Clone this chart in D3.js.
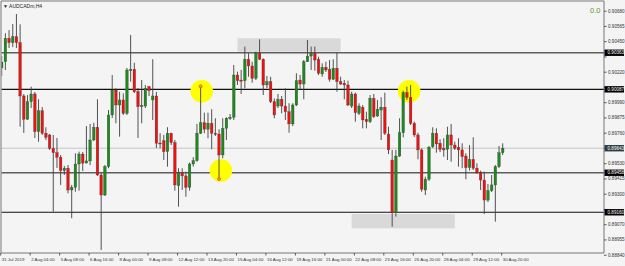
<!DOCTYPE html>
<html lang="en">
<head>
<meta charset="UTF-8">
<title>AUDCADm,H4</title>
<style>
  body, html { margin: 0; padding: 0; background: #f4f4f4; }
  svg { display: block; font-family: "Liberation Sans", Arial, sans-serif; }
</style>
</head>
<body>
<div id="chart"></div>
<script src="https://d3js.org/d3.v7.min.js"></script>
<script>
// H4 bars, 31 Jul 2019 20:00 .. 30 Aug 2019 20:00 (137 bars)
const openP = [
  0.90248,0.90295,0.90472,0.90439,0.90484,0.90439,0.90037,0.89861,0.89994,0.90052,
  0.89768,0.89926,0.89756,0.89743,0.89642,0.89609,0.89575,0.89474,0.89492,0.89328,
  0.89348,0.89524,0.89599,0.89531,0.89547,0.89705,0.89801,0.89441,0.89290,0.89504,
  0.89894,0.90082,0.89969,0.90007,0.89906,0.90228,0.90238,0.90069,0.89956,0.89961,
  0.90107,0.90007,0.90037,0.89682,0.89700,0.89617,0.89756,0.89685,0.89360,0.89458,
  0.89434,0.89348,0.89524,0.89549,0.89756,0.89835,0.89786,0.89831,0.89756,0.89750,
  0.89592,0.89793,0.89866,0.89876,0.90195,0.90157,0.90152,0.90314,0.90263,0.90170,
  0.90359,0.90314,0.90120,0.90145,0.89994,0.89961,0.90012,0.89961,0.89918,0.89826,
  0.89969,0.90157,0.90127,0.90295,0.90338,0.90359,0.90314,0.90203,0.90253,0.90238,
  0.90163,0.90246,0.90145,0.90133,0.90120,0.89961,0.90052,0.89906,0.89952,0.89861,
  0.89843,0.90019,0.89886,0.89931,0.89952,0.89750,0.89554,0.89157,0.89584,0.89760,
  0.90062,0.90027,0.89831,0.89743,0.89630,0.89328,0.89409,0.89654,0.89756,0.89680,
  0.89642,0.89635,0.89743,0.89667,0.89650,0.89630,0.89584,0.89496,0.89559,0.89492,
  0.89458,0.89403,0.89252,0.89323,0.89366,0.89504,0.89609
];
const highP = [
  0.90338,0.90510,0.90534,0.90580,0.90655,0.90577,0.90052,0.90044,0.90107,0.90067,
  0.90012,0.89954,0.89801,0.89750,0.89743,0.89720,0.89592,0.89509,0.89516,0.89366,
  0.89605,0.89617,0.89614,0.89810,0.89826,0.89835,0.90012,0.89456,0.89516,0.89931,
  0.90195,0.90095,0.90069,0.90057,0.90248,0.90497,0.90288,0.90097,0.90157,0.90120,
  0.90112,0.90314,0.90067,0.89756,0.89743,0.89801,0.89760,0.89705,0.89492,0.89492,
  0.89466,0.89534,0.89575,0.89826,0.90112,0.89911,0.89911,0.89937,0.89869,0.89786,
  0.89869,0.89876,0.89901,0.90270,0.90220,0.90233,0.90409,0.90359,0.90295,0.90371,
  0.90464,0.90321,0.90188,0.90182,0.90019,0.90052,0.90037,0.90095,0.89982,0.89982,
  0.90208,0.90195,0.90308,0.90459,0.90409,0.90409,0.90333,0.90283,0.90295,0.90308,
  0.90314,0.90363,0.90182,0.90157,0.90152,0.90069,0.90062,0.89982,0.89969,0.89918,
  0.90044,0.90052,0.90007,0.90027,0.90062,0.89805,0.89630,0.89630,0.89869,0.90077,
  0.90107,0.90120,0.89843,0.89760,0.89642,0.89428,0.89660,0.89801,0.89793,0.89710,
  0.89718,0.89805,0.89826,0.89692,0.89718,0.89680,0.89605,0.89667,0.89725,0.89529,
  0.89474,0.89466,0.89373,0.89441,0.89516,0.89660,0.89680
];
const lowP = [
  0.90188,0.90233,0.90399,0.90406,0.90399,0.89805,0.89758,0.89856,0.89946,0.89720,
  0.89692,0.89743,0.89705,0.89630,0.89164,0.89494,0.89366,0.89441,0.89303,0.89115,
  0.89315,0.89323,0.89471,0.89529,0.89516,0.89697,0.89434,0.88875,0.89283,0.89492,
  0.89871,0.89831,0.89730,0.89894,0.89894,0.90145,0.90059,0.89720,0.89831,0.89946,
  0.90037,0.89856,0.89645,0.89642,0.89554,0.89504,0.89667,0.89323,0.89202,0.89328,
  0.89277,0.89323,0.89504,0.89541,0.89750,0.89756,0.89718,0.89635,0.89735,0.89418,
  0.89567,0.89705,0.89856,0.89856,0.90120,0.90052,0.90095,0.90182,0.90137,0.90157,
  0.90308,0.90044,0.90097,0.89984,0.89869,0.89946,0.89906,0.89856,0.89760,0.89810,
  0.89961,0.90082,0.90012,0.90293,0.90233,0.90228,0.90195,0.90182,0.90218,0.90145,
  0.90157,0.90069,0.90120,0.90012,0.89961,0.89946,0.89843,0.89894,0.89793,0.89793,
  0.89833,0.89871,0.89878,0.89705,0.89743,0.89599,0.89051,0.89127,0.89577,0.89725,
  0.90007,0.89818,0.89728,0.89559,0.89315,0.89290,0.89396,0.89645,0.89609,0.89614,
  0.89579,0.89554,0.89541,0.89630,0.89504,0.89492,0.89409,0.89474,0.89479,0.89449,
  0.89328,0.89147,0.89237,0.89313,0.89089,0.89494,0.89592
];
const closeP = [
  0.90293,0.90472,0.90439,0.90484,0.90439,0.90037,0.89861,0.89994,0.90052,0.89768,
  0.89926,0.89756,0.89725,0.89642,0.89609,0.89575,0.89474,0.89492,0.89328,0.89348,
  0.89524,0.89599,0.89531,0.89547,0.89705,0.89801,0.89441,0.89290,0.89504,0.89894,
  0.90082,0.89969,0.90007,0.89906,0.90233,0.90238,0.90069,0.89956,0.89967,0.90095,
  0.90077,0.90037,0.89680,0.89675,0.89617,0.89756,0.89685,0.89366,0.89458,0.89434,
  0.89348,0.89524,0.89549,0.89756,0.89835,0.89786,0.89831,0.89756,0.89748,0.89592,
  0.89793,0.89869,0.89876,0.90195,0.90152,0.90148,0.90314,0.90263,0.90170,0.90359,
  0.90314,0.90120,0.90145,0.89994,0.89894,0.90012,0.89961,0.89918,0.89826,0.89969,
  0.90152,0.90127,0.90295,0.90338,0.90359,0.90308,0.90208,0.90253,0.90233,0.90163,
  0.90246,0.90145,0.90127,0.90120,0.89969,0.90052,0.89911,0.89961,0.89856,0.89843,
  0.90019,0.89881,0.89937,0.89952,0.89756,0.89630,0.89157,0.89584,0.89760,0.90062,
  0.90027,0.89831,0.89743,0.89630,0.89333,0.89409,0.89650,0.89756,0.89675,0.89635,
  0.89630,0.89743,0.89667,0.89642,0.89630,0.89579,0.89496,0.89559,0.89492,0.89458,
  0.89403,0.89252,0.89323,0.89366,0.89504,0.89609,0.89643
];

// time axis: a label every 8 bars
const timeTickBars = [0, 8, 16, 24, 32, 40, 48, 56, 64, 72, 80, 88, 96, 104, 112, 120, 128, 136];
const timeTickLabels = ["31 Jul 2019", "2 Aug 04:00", "5 Aug 08:00", "6 Aug 16:00", "8 Aug 00:00",
  "9 Aug 08:00", "12 Aug 12:00", "13 Aug 20:00", "15 Aug 04:00", "16 Aug 12:00", "19 Aug 16:00",
  "21 Aug 00:00", "22 Aug 08:00", "23 Aug 16:00", "26 Aug 20:00", "28 Aug 04:00", "29 Aug 12:00",
  "30 Aug 20:00"];

const priceTicks = [0.90680, 0.90565, 0.90450, 0.90335, 0.90220, 0.90105, 0.89990, 0.89875,
  0.89760, 0.89645, 0.89530, 0.89415, 0.89300, 0.89185, 0.89070, 0.88955, 0.88840];

// horizontal levels drawn on the chart
const levelPrices = [0.90363, 0.90087, 0.89458, 0.89160];
const levelKinds = ["gray", "black", "gray", "black"];
const bidPrice = 0.89643;

// marked zones (bar from/to, price top/bottom)
const zoneBars = [[64, 92], [95, 123]];
const zonePrices = [[0.90472, 0.90371], [0.89147, 0.89039]];

// yellow highlight circles (bar, price)
const circleBars = [54.3, 59.5, 110.6];
const circlePrices = [0.90072, 0.89475, 0.90072];
const markerBars = [54, 59];
const markerPrices = [0.90110, 0.89410];

const W = 625, H = 266;
const plotL = 1, plotR = 604, plotT = 1, plotB = 253;

const candles = openP.map((o, i) => ({ i, o, h: highP[i], l: lowP[i], c: closeP[i] }));

const x = d3.scaleLinear().domain([0, candles.length - 1]).range([1.7, 502.7]);
const y = d3.scaleLinear().domain([0.88840, 0.90680]).range([254.7, 10.7]);

const svg = d3.select('#chart').append('svg')
    .attr('width', W)
    .attr('height', H);

svg.append('rect').attr('width', W).attr('height', H).attr('fill', '#f4f4f4');

svg.append('defs').append('clipPath').attr('id', 'plot')
    .append('rect').attr('x', plotL + 0.5).attr('y', plotT + 0.5)
    .attr('width', plotR - plotL - 0.5).attr('height', plotB - plotT - 0.5);

const plot = svg.append('g').attr('clip-path', 'url(#plot)');

// zones
plot.selectAll('rect.zone')
    .data(zoneBars.map((b, k) => ({ b, p: zonePrices[k] })))
    .enter().append('rect')
    .attr('class', 'zone')
    .attr('x', d => x(d.b[0]))
    .attr('width', d => x(d.b[1]) - x(d.b[0]))
    .attr('y', d => y(d.p[0]))
    .attr('height', d => y(d.p[1]) - y(d.p[0]))
    .attr('fill', '#d9d9d9');

// bid line
plot.append('line')
    .attr('x1', plotL).attr('x2', plotR)
    .attr('y1', y(bidPrice)).attr('y2', y(bidPrice))
    .attr('stroke', '#c6c6c6').attr('stroke-width', 1);

// levels
plot.selectAll('line.level')
    .data(levelPrices)
    .enter().append('line')
    .attr('class', 'level')
    .attr('x1', plotL).attr('x2', plotR)
    .attr('y1', d => y(d)).attr('y2', d => y(d))
    .attr('stroke', (d, k) => levelKinds[k] === 'gray' ? '#5e5e5e' : '#111')
    .attr('stroke-width', (d, k) => levelKinds[k] === 'gray' ? 1.7 : 1.2);

// yellow circles
plot.selectAll('circle.hl')
    .data(circleBars)
    .enter().append('circle')
    .attr('class', 'hl')
    .attr('cx', d => x(d))
    .attr('cy', (d, k) => y(circlePrices[k]))
    .attr('r', 11.3)
    .attr('fill', '#ffff00');

// candles
const bar = plot.selectAll('g.candle')
    .data(candles)
    .enter().append('g')
    .attr('class', 'candle');

bar.append('line')
    .attr('x1', d => x(d.i)).attr('x2', d => x(d.i))
    .attr('y1', d => y(d.h)).attr('y2', d => y(d.l))
    .attr('stroke', '#404040')
    .attr('stroke-width', 0.9);

bar.append('rect')
    .attr('x', d => x(d.i) - 1.3)
    .attr('width', 2.6)
    .attr('y', d => y(Math.max(d.o, d.c)))
    .attr('height', d => Math.max(0.8, Math.abs(y(d.o) - y(d.c))))
    .attr('fill', d => d.c >= d.o ? '#1d8a1d' : '#f01010')
    .attr('stroke', '#3a3a3a')
    .attr('stroke-width', 0.3);

// small arrow markers inside the circles
plot.selectAll('circle.mark')
    .data(markerBars)
    .enter().append('circle')
    .attr('class', 'mark')
    .attr('cx', d => x(d))
    .attr('cy', (d, k) => y(markerPrices[k]))
    .attr('r', 1.5)
    .attr('fill', '#ffa500')
    .attr('stroke', '#e0301a')
    .attr('stroke-width', 0.6);

// frame
svg.append('path')
    .attr('d', `M${plotL},${plotT}V${plotB}H${plotR}V${plotT}H${plotL}`)
    .attr('fill', 'none')
    .attr('stroke', '#777')
    .attr('stroke-width', 1);

// highlighted price labels sit over the scale; scale labels under them are covered
const tags = levelPrices.map(p => ({ p, bg: '#000' })).concat([{ p: bidPrice, bg: '#2e3e44' }]);
const covered = v => tags.some(t => Math.abs(y(t.p) - y(v)) < 4);

// price axis
const yAxis = svg.append('g')
    .attr('transform', `translate(${plotR},0)`)
    .call(d3.axisRight(y).tickValues(priceTicks).tickSize(2.5).tickPadding(1.5)
        .tickFormat(d3.format('.5f')));
yAxis.select('.domain').remove();
yAxis.selectAll('line').attr('stroke', '#555');
yAxis.selectAll('text').attr('font-size', 4.6).attr('fill', '#333')
    .attr('font-family', '"Liberation Sans", Arial, sans-serif');
yAxis.selectAll('.tick').filter(d => covered(d)).select('text').remove();

const tag = svg.selectAll('g.tag')
    .data(tags)
    .enter().append('g')
    .attr('class', 'tag')
    .attr('transform', d => `translate(${plotR},${y(d.p)})`);
tag.append('rect')
    .attr('x', 0.5).attr('y', -3.2).attr('width', 19.5).attr('height', 6.4)
    .attr('fill', d => d.bg);
tag.append('text')
    .attr('x', 3.5).attr('dy', '0.35em')
    .attr('font-size', 4.6)
    .attr('fill', '#fff')
    .text(d => d3.format('.5f')(d.p));

// time axis
const xAxis = svg.append('g')
    .attr('transform', `translate(-1.5,${plotB})`)
    .call(d3.axisBottom(x).tickValues(timeTickBars).tickSize(2.5).tickPadding(2.5)
        .tickFormat((d, k) => timeTickLabels[k]));
xAxis.select('.domain').remove();
xAxis.selectAll('line').attr('stroke', '#555');
xAxis.selectAll('text')
    .attr('text-anchor', 'start')
    .attr('dx', 1)
    .attr('font-size', 4.4)
    .attr('fill', '#333')
    .attr('font-family', '"Liberation Sans", Arial, sans-serif');

// title and indicator value
svg.append('text')
    .attr('x', 3).attr('y', 7.5)
    .attr('font-size', 5)
    .attr('fill', '#222')
    .text('\u25BC AUDCADm,H4');

svg.append('text')
    .attr('x', 590).attr('y', 12.6)
    .attr('font-size', 7.5)
    .attr('fill', '#5c9a30')
    .text('0.0');
</script>
</body>
</html>
